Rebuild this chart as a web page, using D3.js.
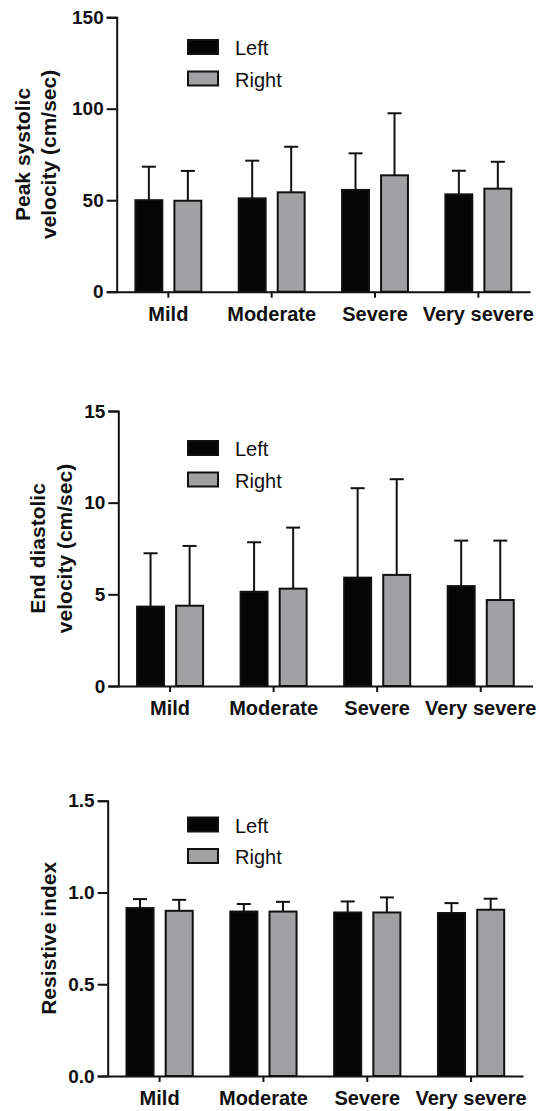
<!DOCTYPE html>
<html>
<head>
<meta charset="utf-8">
<script src="https://cdn.jsdelivr.net/npm/d3@7"></script>
<style>
  body { margin: 0; background: #fff; }
  text { font-family: "Liberation Sans", Arial, sans-serif; fill: #111; }
</style>
</head>
<body>
<svg id="vis" width="539" height="1111"></svg>
<script>
// data (bar = mean, whisker = + SD)
var categories = ["Mild", "Moderate", "Severe", "Very severe"];
var sides = ["Left", "Right"];

var psvLeft = [50.0, 51.0, 55.6, 53.2];
var psvLeftSD = [18.3, 20.6, 20.0, 12.9];
var psvRight = [49.7, 54.3, 63.6, 56.3];
var psvRightSD = [16.3, 24.9, 33.9, 14.7];

var edvLeft = [4.33, 5.14, 5.91, 5.45];
var edvLeftSD = [2.91, 2.70, 4.88, 2.48];
var edvRight = [4.38, 5.31, 6.06, 4.69];
var edvRightSD = [3.26, 3.33, 5.22, 3.24];

var riLeft = [0.915, 0.896, 0.891, 0.888];
var riLeftSD = [0.049, 0.041, 0.060, 0.054];
var riRight = [0.900, 0.896, 0.891, 0.906];
var riRightSD = [0.060, 0.053, 0.082, 0.060];

var psvTicks = [0, 50, 100, 150];
var edvTicks = [0, 5, 10, 15];
var riTicks = [0, 0.5, 1.0, 1.5];

var colors = { Left: "#050505", Right: "#a1a1a3" };

var svg = d3.select("#vis");
svg.append("rect").attr("width", 539).attr("height", 1111).attr("fill", "#fff");

var render_panel = function (opt) {
    var g = svg.append("g");

    var x0 = d3.scaleBand()
        .domain(categories)
        .range([opt.left, opt.right])
        .padding(0);

    var x1 = d3.scaleBand()
        .domain(sides)
        .range([0, x0.bandwidth()])
        .paddingInner(0.31)
        .paddingOuter(0.48);

    var y = d3.scaleLinear()
        .domain([0, opt.ticks[opt.ticks.length - 1]])
        .range([opt.bottom, opt.top]);

    var rows = [];
    categories.forEach(function (c, i) {
        rows.push({ cat: c, side: "Left", value: opt.left_vals[i], sd: opt.left_sd[i] });
        rows.push({ cat: c, side: "Right", value: opt.right_vals[i], sd: opt.right_sd[i] });
    });

    // error bars (drawn first, bars cover the lower part)
    var err = g.append("g").selectAll("g")
        .data(rows)
        .enter()
        .append("g")
        .attr("stroke", "#111")
        .attr("stroke-width", 2);

    err.append("line")
        .attr("x1", d => x0(d.cat) + x1(d.side) + x1.bandwidth() / 2)
        .attr("x2", d => x0(d.cat) + x1(d.side) + x1.bandwidth() / 2)
        .attr("y1", d => y(d.value))
        .attr("y2", d => y(d.value + d.sd));

    err.append("line")
        .attr("x1", d => x0(d.cat) + x1(d.side) + x1.bandwidth() / 2 - 7)
        .attr("x2", d => x0(d.cat) + x1(d.side) + x1.bandwidth() / 2 + 7)
        .attr("y1", d => y(d.value + d.sd))
        .attr("y2", d => y(d.value + d.sd));

    // bars
    g.append("g").selectAll("rect")
        .data(rows)
        .enter()
        .append("rect")
        .attr("x", d => x0(d.cat) + x1(d.side))
        .attr("y", d => y(d.value))
        .attr("width", x1.bandwidth())
        .attr("height", d => y(0) - y(d.value))
        .attr("fill", d => colors[d.side])
        .attr("stroke", "#111")
        .attr("stroke-width", 2);

    // y axis
    var yAxis = d3.axisLeft(y)
        .tickValues(opt.ticks)
        .tickFormat(d3.format(opt.fmt))
        .tickSize(10)
        .tickPadding(3);

    var ya = g.append("g")
        .attr("transform", "translate(" + opt.left + ",0)")
        .call(yAxis);
    ya.select(".domain").attr("stroke", "#111").attr("stroke-width", 2);
    ya.selectAll(".tick line").attr("stroke", "#111").attr("stroke-width", 2);
    ya.selectAll(".tick text")
        .style("font-family", "'Liberation Sans', Arial, sans-serif")
        .style("font-size", "19px")
        .style("font-weight", "bold")
        .attr("fill", "#111");

    // x axis
    var xAxis = d3.axisBottom(x0)
        .tickSize(6)
        .tickSizeOuter(0)
        .tickPadding(9);

    var xa = g.append("g")
        .attr("transform", "translate(0," + opt.bottom + ")")
        .call(xAxis);
    xa.select(".domain").attr("stroke", "#111").attr("stroke-width", 2);
    xa.selectAll(".tick line").attr("stroke", "#111").attr("stroke-width", 2);
    xa.selectAll(".tick text")
        .style("font-family", "'Liberation Sans', Arial, sans-serif")
        .style("font-size", "20px")
        .style("font-weight", "bold")
        .attr("fill", "#111");

    // y axis title
    var cy = (opt.top + opt.bottom) / 2;
    opt.title.forEach(function (t, i) {
        g.append("text")
            .attr("transform", "translate(" + opt.titleX[i] + "," + cy + ") rotate(-90)")
            .attr("text-anchor", "middle")
            .style("font-size", "21px")
            .style("font-weight", "bold")
            .text(t);
    });

    // legend
    var leg = g.append("g").selectAll("g")
        .data(sides)
        .enter()
        .append("g")
        .attr("transform", (d, i) => "translate(187," + (opt.legendY + i * 31.5) + ")");

    leg.append("rect")
        .attr("x", 1)
        .attr("y", 1)
        .attr("width", 30)
        .attr("height", 14)
        .attr("fill", d => colors[d])
        .attr("stroke", "#111")
        .attr("stroke-width", 2);

    leg.append("text")
        .attr("x", 48)
        .attr("y", 16)
        .style("font-size", "20px")
        .text(d => d);
};

render_panel({
    left: 116.7, right: 530, top: 17.2, bottom: 291.7,
    ticks: psvTicks, fmt: "d",
    left_vals: psvLeft, left_sd: psvLeftSD, right_vals: psvRight, right_sd: psvRightSD,
    title: ["Peak systolic", "velocity (cm/sec)"], titleX: [30, 56],
    legendY: 39
});

render_panel({
    left: 118.3, right: 532.5, top: 411, bottom: 686,
    ticks: edvTicks, fmt: "d",
    left_vals: edvLeft, left_sd: edvLeftSD, right_vals: edvRight, right_sd: edvRightSD,
    title: ["End diastolic", "velocity (cm/sec)"], titleX: [45, 72],
    legendY: 440
});

render_panel({
    left: 107.7, right: 523, top: 800.7, bottom: 1076,
    ticks: riTicks, fmt: ".1f",
    left_vals: riLeft, left_sd: riLeftSD, right_vals: riRight, right_sd: riRightSD,
    title: ["Resistive index"], titleX: [56],
    legendY: 816.5
});
</script>
</body>
</html>
